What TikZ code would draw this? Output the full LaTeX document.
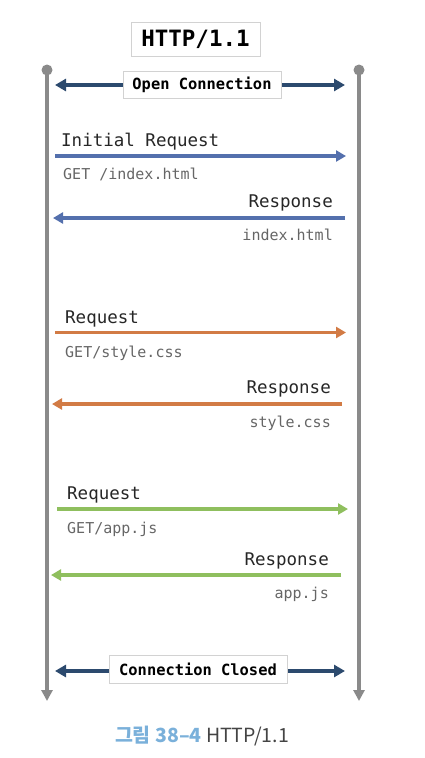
\documentclass[tikz,border=0pt]{standalone}
\usepackage{fontspec}
\setmonofont{DejaVu Sans Mono}
\newfontfamily\cjk{Noto Sans CJK KR}
\usetikzlibrary{arrows.meta}
\definecolor{lifegray}{HTML}{8A8A8A}
\definecolor{navy}{HTML}{2C4A6E}
\definecolor{reqblue}{HTML}{5470AD}
\definecolor{reqorange}{HTML}{D27B45}
\definecolor{reqgreen}{HTML}{8FBF5E}
\definecolor{subgray}{HTML}{666666}
\definecolor{capblue}{HTML}{7AB0DA}
\definecolor{capgray}{HTML}{444444}
\tikzset{
  lifeline/.style={draw=lifegray, line width=3.5pt, -{Triangle[length=11pt,width=11pt]}},
  msg/.style={line width=3.5pt, -{Triangle[length=10pt,width=11pt]}},
  conn/.style={draw=navy, line width=4pt, {Triangle[length=11pt,width=12pt]}-{Triangle[length=11pt,width=12pt]}},
  labelbox/.style={draw=gray!35, fill=white, line width=1pt, inner sep=0pt, font=\ttfamily\bfseries},
  msglabel/.style={inner sep=0pt, font=\ttfamily\fontsize{17.5}{20}\selectfont, text=black!85},
  sublabel/.style={inner sep=0pt, font=\ttfamily\fontsize{15}{18}\selectfont, text=subgray}
}
\begin{document}
\begin{tikzpicture}[x=1pt,y=-1pt]
\useasboundingbox (0,0) rectangle (424,758);
% lifelines
\coordinate (ltop) at (47,70);
\coordinate (lbot) at (47,701);
\coordinate (rtop) at (359,70);
\coordinate (rbot) at (359,701);
\draw[lifeline] (ltop) -- (lbot);
\draw[lifeline] (rtop) -- (rbot);
\fill[lifegray] (ltop) circle (5.5pt);
\fill[lifegray] (rtop) circle (5.5pt);
% title
\node[labelbox, minimum width=129pt, minimum height=34pt, font=\ttfamily\bfseries\fontsize{22.5}{26}\selectfont] (title) at (195.5,39) {HTTP/1.1};
% open connection
\coordinate (ocl) at (55,85);
\coordinate (ocr) at (345,85);
\draw[conn] (ocl) -- (ocr);
\node[labelbox, minimum width=158pt, minimum height=27pt, font=\ttfamily\bfseries\fontsize{15.4}{18}\selectfont] (open) at (202,84.5) {Open Connection};
% blue
\coordinate (b1s) at (55,156);
\coordinate (b1e) at (346,156);
\draw[msg, reqblue] (b1s) -- (b1e);
\node[msglabel, anchor=base west] (b1t) at (61,146) {Initial Request};
\node[sublabel, anchor=base west] (b1u) at (63,179) {GET /index.html};
\coordinate (b2s) at (345,218);
\coordinate (b2e) at (53,218);
\draw[msg, reqblue] (b2s) -- (b2e);
\node[msglabel, anchor=base east] (b2t) at (333,207) {Response};
\node[sublabel, anchor=base east] (b2u) at (333,240) {index.html};
% orange
\coordinate (o1s) at (55,332.5);
\coordinate (o1e) at (346,332.5);
\draw[msg, reqorange] (o1s) -- (o1e);
\node[msglabel, anchor=base west] (o1t) at (65,323) {Request};
\node[sublabel, anchor=base west] (o1u) at (65,357) {GET/style.css};
\coordinate (o2s) at (342,404);
\coordinate (o2e) at (52,404);
\draw[msg, reqorange] (o2s) -- (o2e);
\node[msglabel, anchor=base east] (o2t) at (331,393) {Response};
\node[sublabel, anchor=base east] (o2u) at (331,427) {style.css};
% green
\coordinate (g1s) at (57,509);
\coordinate (g1e) at (348,509);
\draw[msg, reqgreen] (g1s) -- (g1e);
\node[msglabel, anchor=base west] (g1t) at (67,499) {Request};
\node[sublabel, anchor=base west] (g1u) at (67,533) {GET/app.js};
\coordinate (g2s) at (341,575);
\coordinate (g2e) at (51,575);
\draw[msg, reqgreen] (g2s) -- (g2e);
\node[msglabel, anchor=base east] (g2t) at (329,565) {Response};
\node[sublabel, anchor=base east] (g2u) at (329,598) {app.js};
% connection closed
\coordinate (ccl) at (55,671);
\coordinate (ccr) at (345,671);
\draw[conn] (ccl) -- (ccr);
\node[labelbox, minimum width=178pt, minimum height=28pt, font=\ttfamily\bfseries\fontsize{15.4}{18}\selectfont] (closed) at (198,669) {Connection Closed};
% caption
\node[inner sep=0pt, anchor=base, font=\cjk\fontsize{19.5}{22}\selectfont] (cap) at (202,742) {\textcolor{capblue}{\bfseries 그림 38–4} \textcolor{capgray}{HTTP/1.1}};
\end{tikzpicture}
\end{document}
